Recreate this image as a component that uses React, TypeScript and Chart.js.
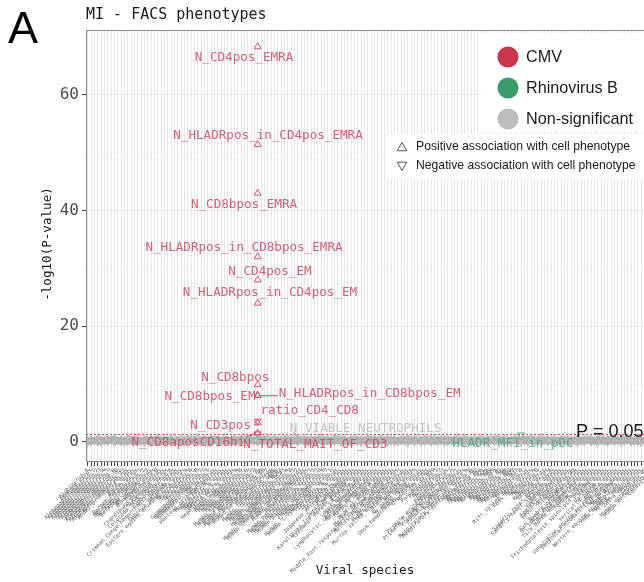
import React, { useEffect, useRef } from 'react';
import { Chart, registerables } from 'chart.js';
Chart.register(...registerables);

const MONO = '"DejaVu Sans Mono", monospace';
const SANS = '"Liberation Sans", Arial, sans-serif';

// ---------------- DATA ----------------
const categories = [
  'Aichivirus_A','Akabane_virus','Alphapapillomavirus_1','Alphapapillomavirus_2','Alphapapillomavirus_3',
  'Alphapapillomavirus_4','Alphapapillomavirus_5','Alphapapillomavirus_7','Alphapapillomavirus_9','Alphapapillomavirus_10',
  'Alphapapillomavirus_11','Alphapapillomavirus_13','Andes_orthohantavirus','Aura_virus','Banna_virus',
  'Barmah_Forest_virus','Betapapillomavirus_1','Betapapillomavirus_2','Betapapillomavirus_3','BK_polyomavirus',
  'Bunyamwera_virus','Cardiovirus_B','Chandipura_vesiculovirus','Chikungunya_virus','Colorado_tick_fever_virus',
  'Coxsackievirus_A','Crimean_Congo_hemorrhagic_fever_virus','Dengue_virus','Dobrava_Belgrade_virus','Eastern_equine_encephalitis_virus',
  'Enterovirus_A','Enterovirus_B','Enterovirus_C','Enterovirus_D','Gammapapillomavirus_1',
  'Gammapapillomavirus_7','Gammapapillomavirus_9','GB_virus_C','Hantaan_orthohantavirus','Hendra_henipavirus',
  'Hepatitis_A_virus','Hepatitis_B_virus','Hepatitis_C_virus','Hepatitis_delta_virus','Hepatitis_E_virus',
  'Human_adenovirus_A','Human_adenovirus_B','Human_adenovirus_C','Human_adenovirus_D','Human_alphaherpesvirus_1',
  'Human_alphaherpesvirus_2','Human_betaherpesvirus_5','Human_betaherpesvirus_6A','Human_betaherpesvirus_6B','Human_betaherpesvirus_7',
  'Human_bocavirus','Human_coronavirus_229E','Human_coronavirus_HKU1','Human_coronavirus_NL63','Human_coronavirus_OC43',
  'Human_gammaherpesvirus_4','Human_gammaherpesvirus_8','Human_immunodeficiency_virus_1','Human_immunodeficiency_virus_2','Human_metapneumovirus',
  'Human_orthopneumovirus','Human_parechovirus','Human_parainfluenza_virus_1','Human_parainfluenza_virus_2','Human_parainfluenza_virus_3',
  'Human_parainfluenza_virus_4','Human_polyomavirus_6','Human_polyomavirus_7','Human_T_lymphotropic_virus_1','Human_T_lymphotropic_virus_2',
  'Influenza_A_virus','Influenza_B_virus','Influenza_C_virus','Japanese_encephalitis_virus','JC_polyomavirus',
  'Junin_mammarenavirus','Karolinska_Institutet_polyomavirus','Kyasanur_Forest_disease_virus','La_Crosse_virus','Lagos_bat_lyssavirus',
  'Lassa_mammarenavirus','Lymphocytic_choriomeningitis_virus','Machupo_mammarenavirus','Marburg_marburgvirus','Mayaro_virus',
  'Measles_morbillivirus','Merkel_cell_polyomavirus','Middle_East_respiratory_syndrome_coronavirus','Molluscum_contagiosum_virus','Mu_papillomavirus_1',
  'Mumps_orthorubulavirus','Murray_Valley_encephalitis_virus','Nipah_henipavirus','Norwalk_virus','Nu_papillomavirus_1',
  'O_nyong_nyong_virus','Omsk_hemorrhagic_fever_virus','Oropouche_virus','Orf_virus','Parvovirus_B19',
  'Poliovirus_1','Poliovirus_2','Poliovirus_3','Powassan_virus','Primate_erythroparvovirus_1',
  'Primate_T_lymphotropic_virus_1','Primate_bocaparvovirus_1','Puumala_orthohantavirus','Rabies_lyssavirus','Respiratory_syncytial_virus_A',
  'Respiratory_syncytial_virus_B','Rhinovirus_A1','Rhinovirus_A2','Rhinovirus_A16','Rhinovirus_A21',
  'Rhinovirus_A39','Rhinovirus_A49','Rhinovirus_A89','Rhinovirus_A','Rhinovirus_B3',
  'Rhinovirus_B4','Rhinovirus_B5','Rhinovirus_B14','Rhinovirus_B27','Rhinovirus_B37',
  'Rhinovirus_B','Rhinovirus_C','Rift_Valley_fever_virus','Ross_River_virus','Rotavirus_A',
  'Rotavirus_B','Rotavirus_C','Rubella_virus','Saffold_virus','Salivirus_A',
  'Sandfly_fever_Naples_virus','Sandfly_fever_Sicilian_virus','Sapporo_virus','SARS_coronavirus','Semliki_Forest_virus',
  'Seoul_orthohantavirus','Simian_virus_40','Sindbis_virus','Sin_Nombre_orthohantavirus','St_Louis_encephalitis_virus',
  'Tacaribe_mammarenavirus','Tick_borne_encephalitis_virus','Torque_teno_virus','Toscana_virus','Trichodysplasia_spinulosa_polyomavirus',
  'Usutu_virus','Vaccinia_virus','Varicella_zoster_virus','Variola_virus','Venezuelan_equine_encephalitis_virus',
  'Vesicular_stomatitis_Indiana_virus','WU_polyomavirus','West_Nile_virus','Western_equine_encephalitis_virus','Yaba_monkey_tumor_virus',
  'Yellow_fever_virus','Zaire_ebolavirus','Zika_virus','Human_enterovirus_68','Human_enterovirus_71',
  'Cosavirus_A',
];

// non-significant -log10(P) per species (positive / negative association)
const nsPositive = [
  0.12,0.31,0.05,0.44,0.21,0.09,0.36,0.18,0.52,0.07,0.27,0.14,0.40,0.03,0.23,0.58,0.11,0.33,0.16,
  0.29,0.06,0.47,0.19,0.38,0.10,0.25,0.62,0.04,0.34,0.15,0.41,0.08,0.22,0.55,0.13,0.30,0.02,0.45,
  0.17,0.35,0.09,0.50,0.24,0.12,0.39,0.06,0.28,0.48,0.20,0.33,0.15,0.43,0.07,0.26,0.57,0.11,0.37,
  0.18,0.04,0.31,0.46,0.14,0.23,0.53,0.09,0.35,0.19,0.42,0.05,0.27,0.60,0.13,0.32,0.08,0.44,0.21,
  0.16,0.39,0.03,0.25,0.51,0.12,0.34,0.20,0.47,0.07,0.29,0.14,0.41,0.10,0.56,0.22,0.36,0.05,0.30,
  0.18,0.45,0.09,0.26,0.63,0.15,0.38,0.06,0.24,0.49,0.11,0.33,0.17,0.43,0.08,0.28,0.54,0.13,0.40,
  0.21,0.04,0.35,0.16,0.48,0.10,0.27,0.59,0.19,0.32,0.07,0.44,0.23,0.14,0.37,0.52,0.09,0.30,0.18,
  0.42,0.06,0.25,0.57,0.12,0.34,0.20,0.46,0.08,0.29,0.15,0.39,0.03,0.26,0.50,0.13,0.36,0.22,0.45,
  0.10,0.31,0.61,0.17,0.28,0.05,0.40,0.24,0.14,0.53,0.19,0.33,0.08,0.43,0.27,0.11,0.37,0.16,0.48,
];
const nsNegative = [
  0.08,0.22,0.41,0.15,0.03,0.33,0.26,0.47,0.11,0.38,0.19,0.06,0.29,0.54,0.14,0.35,0.24,0.09,0.43,
  0.17,0.50,0.12,0.27,0.05,0.39,0.21,0.31,0.13,0.46,0.07,0.25,0.58,0.18,0.36,0.10,0.44,0.28,0.15,
  0.52,0.04,0.32,0.20,0.40,0.11,0.23,0.49,0.16,0.34,0.08,0.42,0.26,0.13,0.37,0.55,0.19,0.06,0.30,
  0.45,0.12,0.24,0.39,0.09,0.33,0.17,0.51,0.22,0.05,0.35,0.14,0.47,0.27,0.10,0.41,0.18,0.29,0.60,
  0.07,0.36,0.21,0.13,0.44,0.25,0.04,0.38,0.16,0.53,0.11,0.31,0.20,0.46,0.09,0.34,0.23,0.15,0.42,
  0.28,0.06,0.49,0.19,0.37,0.12,0.26,0.56,0.10,0.32,0.17,0.43,0.08,0.24,0.40,0.14,0.35,0.21,0.03,
  0.48,0.18,0.30,0.11,0.45,0.25,0.07,0.39,0.16,0.52,0.22,0.13,0.34,0.09,0.41,0.27,0.05,0.36,0.19,
  0.57,0.14,0.28,0.10,0.44,0.23,0.31,0.06,0.38,0.17,0.50,0.12,0.26,0.42,0.08,0.33,0.20,0.47,0.15,
  0.29,0.04,0.40,0.24,0.13,0.54,0.18,0.35,0.09,0.27,0.45,0.11,0.32,0.21,0.06,0.43,0.16,0.37,0.25,
];

// CMV (Human_betaherpesvirus_5) significant phenotypes
const cmvSpecies = 'Human_betaherpesvirus_5';
const cmvPhenotypes = [
  'N_CD4pos_EMRA','N_HLADRpos_in_CD4pos_EMRA','N_CD8bpos_EMRA','N_HLADRpos_in_CD8bpos_EMRA',
  'N_CD4pos_EM','N_HLADRpos_in_CD4pos_EM','N_CD8bpos','N_CD8bpos_EM','N_HLADRpos_in_CD8bpos_EM',
  'ratio_CD4_CD8','N_CD3pos','N_CD8aposCD16hi','N_TOTAL_MAIT_OF_CD3',
];
const cmvLog10P = [68.3, 51.4, 43.0, 32.0, 28.0, 24.0, 9.9, 8.1, 8.0, 3.6, 3.3, 1.55, 1.4];
const cmvDirection = ['+','+','+','+','+','+','+','+','+','-','+','+','-'];

// Rhinovirus B significant phenotypes
const rhinoSpecies = 'Rhinovirus_B';
const rhinoPhenotypes = ['HLADR_MFI_in_pDC'];
const rhinoLog10P = [1.2];
const rhinoDirection = ['-'];

// labelled non-significant phenotype
const nsLabelSpecies = 'Human_immunodeficiency_virus_1';
const nsLabelPhenotypes = ['N_VIABLE_NEUTROPHILS'];
const nsLabelLog10P = [0.9];
const nsLabelDirection = ['+'];

const yTicks = [0, 10, 20, 30, 40, 50, 60, 70];
const pThreshold = 0.05;

// label placement (repelled), in data units: [category position, -log10 P]
const labelLayout: Record<string, [number, number]> = {
  N_CD4pos_EMRA: [46.9, 66.4],
  N_HLADRpos_in_CD4pos_EMRA: [54.1, 52.9],
  N_CD8bpos_EMRA: [46.9, 41.0],
  N_HLADRpos_in_CD8bpos_EMRA: [46.9, 33.5],
  N_CD4pos_EM: [54.7, 29.4],
  N_HLADRpos_in_CD4pos_EM: [54.7, 25.8],
  N_CD8bpos: [44.3, 11.1],
  N_CD8bpos_EM: [36.7, 7.8],
  N_HLADRpos_in_CD8bpos_EM: [84.6, 8.3],
  ratio_CD4_CD8: [66.6, 5.4],
  N_CD3pos: [39.9, 2.8],
  N_CD8aposCD16hi: [30.2, -0.2],
  N_TOTAL_MAIT_OF_CD3: [68.3, -0.5],
  HLADR_MFI_in_pDC: [127.6, -0.35],
  N_VIABLE_NEUTROPHILS: [83.4, 2.25],
};
const segmentLabels = ['N_HLADRpos_in_CD8bpos_EM', 'N_CD8aposCD16hi'];

// ---------------- STYLE ----------------
const CMV_COL = '#c9374f';
const RHINO_COL = '#3a9a6e';
const NS_COL = '#bdbdbd';
const CMV_PT = 'rgba(205,70,95,0.9)';
const CMV_TXT = 'rgba(205,70,95,0.85)';
const RHINO_PT = 'rgba(60,160,110,0.9)';
const RHINO_TXT = 'rgba(70,165,120,0.8)';
const NS_PT = 'rgba(172,172,172,0.8)';
const NS_TXT = 'rgba(185,185,185,0.85)';

const idx = (s: string) => categories.indexOf(s);

function pts(species: string, vals: number[], dirs: string[], want: string) {
  const out: { x: number; y: number }[] = [];
  vals.forEach((v, i) => { if (dirs[i] === want) out.push({ x: idx(species), y: v }); });
  return out;
}

function tri(ctx: CanvasRenderingContext2D, x: number, y: number, r: number, up: boolean) {
  const s = up ? 1 : -1;
  ctx.beginPath();
  ctx.moveTo(x, y - s * r);
  ctx.lineTo(x + r * 0.866, y + s * r * 0.5);
  ctx.lineTo(x - r * 0.866, y + s * r * 0.5);
  ctx.closePath();
  ctx.stroke();
}

const decor = {
  id: 'decor',
  beforeDatasetsDraw(chart: any) {
    const { ctx, chartArea: a, scales } = chart;
    const py = Math.round(scales.y.getPixelForValue(-Math.log10(pThreshold))) + 0.5;
    ctx.save();
    ctx.strokeStyle = '#e4464b';
    ctx.lineWidth = 1;
    ctx.setLineDash([2, 2]);
    ctx.beginPath();
    ctx.moveTo(a.left, py);
    ctx.lineTo(a.right, py);
    ctx.stroke();
    ctx.restore();
  },
  afterDraw(chart: any) {
    const { ctx, chartArea: a, scales } = chart;
    const xs = scales.x, ys = scales.y;
    ctx.save();
    // panel border
    ctx.strokeStyle = '#8a8a8a';
    ctx.lineWidth = 1;
    ctx.strokeRect(a.left + 0.5, a.top + 0.5, a.right - a.left - 1, a.bottom - a.top - 1);

    // point labels
    const groups = [
      { species: cmvSpecies, names: cmvPhenotypes, vals: cmvLog10P, color: CMV_TXT },
      { species: rhinoSpecies, names: rhinoPhenotypes, vals: rhinoLog10P, color: RHINO_TXT },
      { species: nsLabelSpecies, names: nsLabelPhenotypes, vals: nsLabelLog10P, color: NS_TXT },
    ];
    ctx.font = `12.6px ${MONO}`;
    ctx.textAlign = 'center';
    ctx.textBaseline = 'middle';
    for (const g of groups) {
      g.names.forEach((name, i) => {
        const lay = labelLayout[name];
        if (!lay) return;
        const lx = xs.getPixelForValue(lay[0]);
        const ly = ys.getPixelForValue(lay[1]);
        const px = xs.getPixelForValue(idx(g.species));
        const py = ys.getPixelForValue(g.vals[i]);
        const w = ctx.measureText(name).width;
        if (segmentLabels.includes(name)) {
          const bx = Math.max(lx - w / 2, Math.min(px, lx + w / 2));
          const by = Math.max(ly - 6, Math.min(py, ly + 6));
          const dx = bx - px, dy = by - py;
          const d = Math.hypot(dx, dy);
          if (d > 4) {
            ctx.strokeStyle = g.color;
            ctx.lineWidth = 1.2;
            ctx.beginPath();
            ctx.moveTo(px + (dx / d) * 3, py + (dy / d) * 3);
            ctx.lineTo(bx - (dx / d) * 1, by - (dy / d) * 1);
            ctx.stroke();
          }
        }
        ctx.fillStyle = g.color;
        ctx.fillText(name, lx, ly);
      });
    }

    // P = 0.05 annotation
    ctx.fillStyle = '#1a1a1a';
    ctx.font = `18px ${SANS}`;
    ctx.textAlign = 'left';
    ctx.textBaseline = 'alphabetic';
    ctx.fillText(`P = ${pThreshold}`, 576, 437);

    // legend 1
    ctx.fillStyle = '#ffffff';
    ctx.fillRect(481, 33, 220, 99);
    const leg = [['CMV', CMV_COL], ['Rhinovirus B', RHINO_COL], ['Non-significant', NS_COL]];
    leg.forEach(([t, c], i) => {
      const cy = 57 + i * 31;
      ctx.fillStyle = c;
      ctx.beginPath();
      ctx.arc(508, cy, 10.5, 0, Math.PI * 2);
      ctx.fill();
      ctx.fillStyle = '#1a1a1a';
      ctx.font = `16.2px ${SANS}`;
      ctx.textBaseline = 'middle';
      ctx.fillText(t, 526, cy + 1);
    });
    // legend 2
    ctx.fillStyle = '#ffffff';
    ctx.fillRect(386, 134, 320, 45);
    ctx.strokeStyle = '#555';
    ctx.lineWidth = 1;
    tri(ctx, 402, 148, 5.5, true);
    tri(ctx, 402, 165, 5.5, false);
    ctx.fillStyle = '#1a1a1a';
    ctx.font = `12.2px ${SANS}`;
    ctx.fillText('Positive association with cell phenotype', 416, 147);
    ctx.fillText('Negative association with cell phenotype', 416, 166);

    // panel letter and title
    ctx.fillStyle = '#000';
    ctx.font = `45px ${SANS}`;
    ctx.textBaseline = 'alphabetic';
    ctx.fillText('A', 8, 43);
    ctx.fillStyle = '#1a1a1a';
    ctx.font = `15px ${MONO}`;
    ctx.fillText('MI - FACS phenotypes', 86, 19);

    // axis titles
    ctx.font = `12.6px ${MONO}`;
    ctx.textAlign = 'center';
    ctx.textBaseline = 'middle';
    ctx.fillText('Viral species', 365, 571);
    ctx.save();
    ctx.translate(48, 244);
    ctx.rotate(-Math.PI / 2);
    ctx.fillText('-log10(P-value)', 0, 0);
    ctx.restore();
    ctx.restore();
  },
};

export default function App() {
  const ref = useRef<HTMLCanvasElement>(null);
  useEffect(() => {
    const N = categories.length;
    const tri0 = { pointStyle: 'triangle', pointRotation: 0 };
    const tri180 = { pointStyle: 'triangle', pointRotation: 180 };
    const base = { showLine: false, pointBorderWidth: 1, pointBackgroundColor: 'rgba(0,0,0,0)', pointRadius: 4, pointHoverRadius: 4 };
    const nsBase = { ...base, pointRadius: 4.6, pointBorderWidth: 1.2, pointBorderColor: NS_PT };
    const chart = new Chart(ref.current as HTMLCanvasElement, {
      type: 'scatter',
      data: {
        datasets: [
          { ...nsBase, ...tri0, data: nsPositive.map((v, i) => ({ x: i, y: v })) },
          { ...nsBase, ...tri180, data: nsNegative.map((v, i) => ({ x: i, y: v })) },
          { ...nsBase, ...tri0, data: pts(nsLabelSpecies, nsLabelLog10P, nsLabelDirection, '+') },
          { ...base, ...tri0, pointBorderColor: RHINO_PT, data: pts(rhinoSpecies, rhinoLog10P, rhinoDirection, '+') },
          { ...base, ...tri180, pointBorderColor: RHINO_PT, data: pts(rhinoSpecies, rhinoLog10P, rhinoDirection, '-') },
          { ...base, ...tri0, pointBorderColor: CMV_PT, data: pts(cmvSpecies, cmvLog10P, cmvDirection, '+') },
          { ...base, ...tri180, pointBorderColor: CMV_PT, data: pts(cmvSpecies, cmvLog10P, cmvDirection, '-') },
        ] as any,
      },
      options: {
        animation: false,
        responsive: false,
        devicePixelRatio: 1,
        layout: { padding: { left: 0, top: 30, right: 24, bottom: 0 } },
        plugins: { legend: { display: false }, tooltip: { enabled: false }, title: { display: false } },
        scales: {
          x: {
            type: 'linear',
            min: -0.5,
            max: N - 0.5,
            afterBuildTicks: (s: any) => { s.ticks = categories.map((_, i) => ({ value: i })); },
            afterFit: (s: any) => { s.height = 120; s.paddingLeft = 0; s.paddingRight = 0; },
            ticks: {
              autoSkip: false,
              minRotation: 45,
              maxRotation: 45,
              padding: 1,
              color: '#5e5e5e',
              font: { family: MONO, size: 5.5 },
              callback: (v: any) => categories[v] ?? '',
            },
            grid: { color: '#e6e6e6', lineWidth: 1, tickLength: 4, tickColor: '#444', drawTicks: true },
            border: { display: false },
          },
          y: {
            type: 'linear',
            min: -3.46,
            max: 71.2,
            afterBuildTicks: (s: any) => { s.ticks = yTicks.map((v) => ({ value: v })); },
            afterFit: (s: any) => { s.width = 86; s.paddingTop = 0; s.paddingBottom = 0; },
            ticks: {
              padding: 3,
              color: '#4d4d4d',
              font: { family: MONO, size: 16 },
              callback: (v: any) => (v % 20 === 0 ? String(v) : ''),
            },
            grid: {
              color: (c: any) => (c.tick && c.tick.value % 20 === 0 ? '#e8e8e8' : '#f3f3f3'),
              tickLength: 4,
              tickColor: (c: any) => (c.tick && c.tick.value % 20 === 0 ? '#444' : 'rgba(0,0,0,0)'),
            },
            border: { display: false },
          },
        },
      },
      plugins: [decor],
    } as any);
    return () => chart.destroy();
  }, []);
  return (
    <div style={{ position: 'fixed', left: 0, top: 0, width: 644, height: 582, overflow: 'hidden', background: '#fff' }}>
      <canvas ref={ref} width={680} height={582} style={{ display: 'block', width: 680, height: 582 }} />
    </div>
  );
}
